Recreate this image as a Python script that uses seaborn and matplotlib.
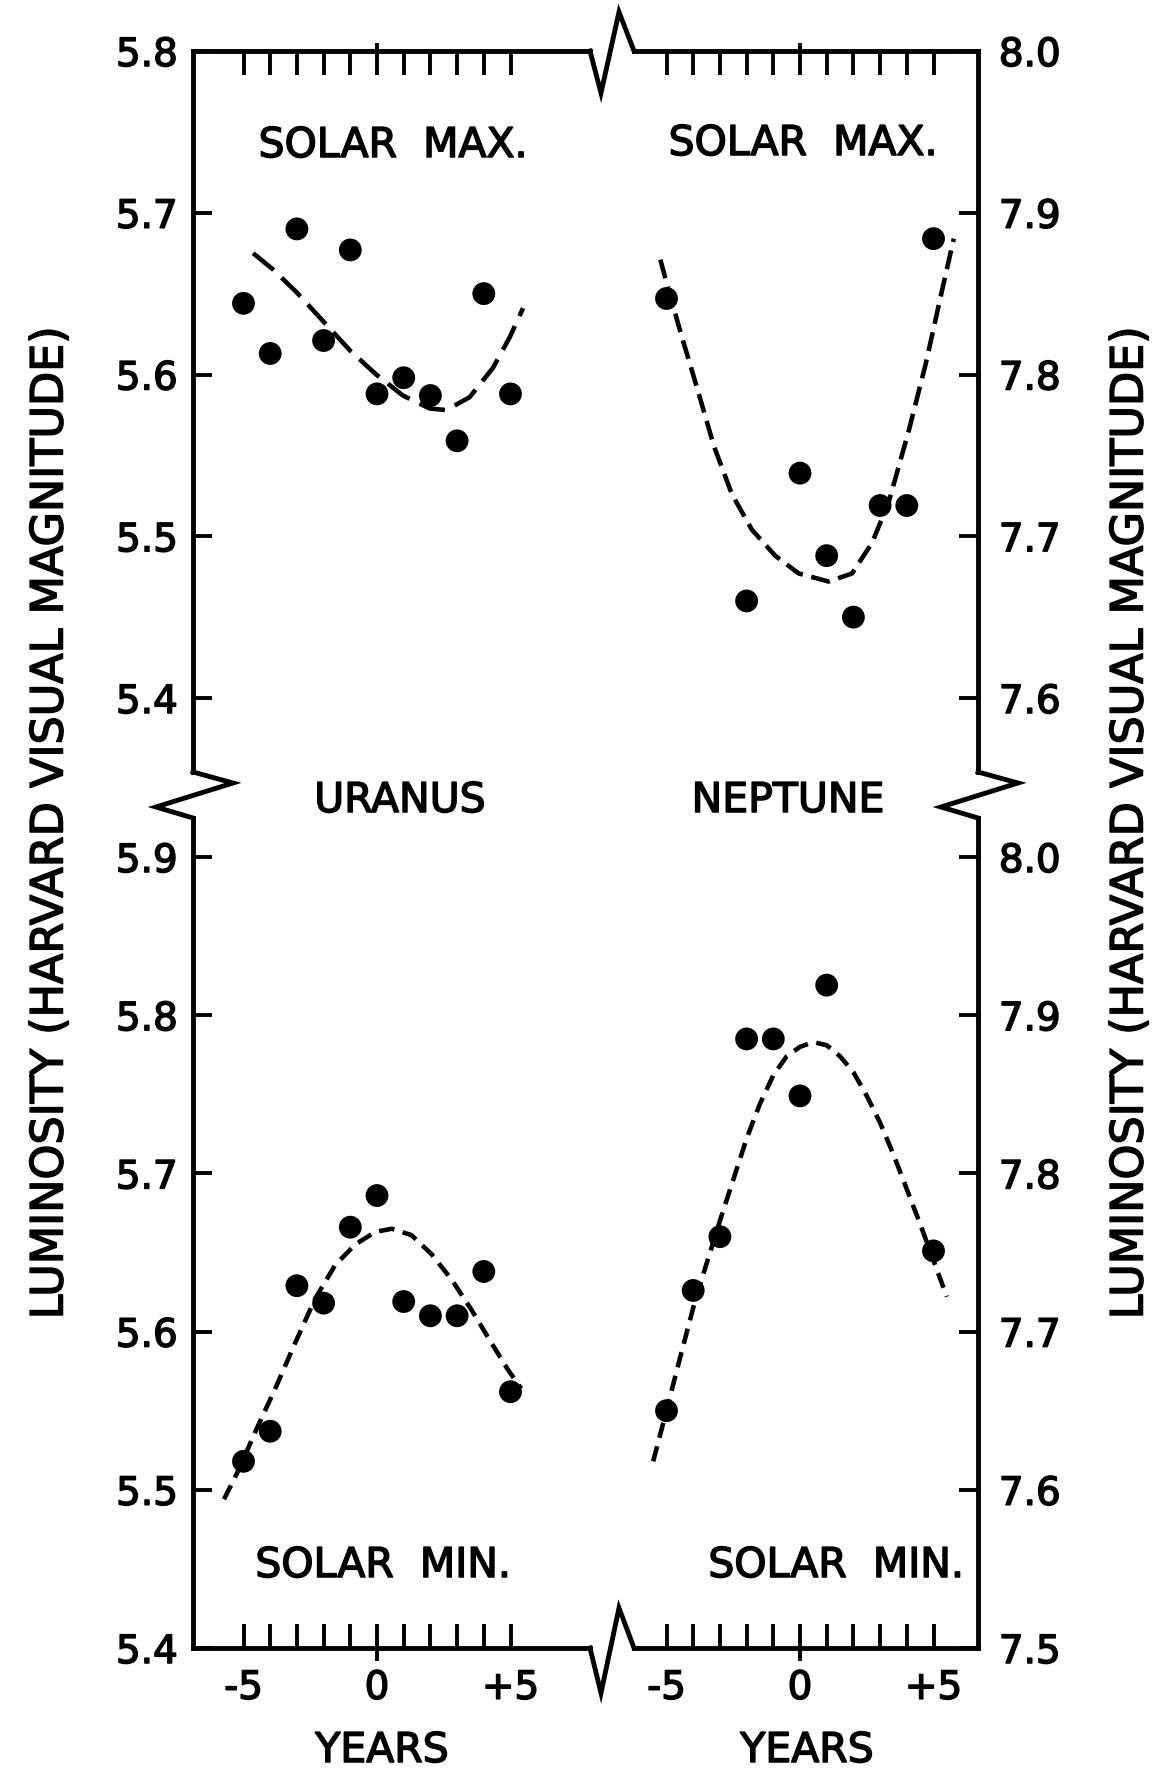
import numpy as np
import pandas as pd
import matplotlib
matplotlib.use("Agg")
import matplotlib.pyplot as plt
import matplotlib.patheffects as pe
from matplotlib.lines import Line2D
from matplotlib.text import Text
from matplotlib.ticker import FixedLocator
import seaborn as sns

# ---------------- data ----------------
years_uranus_max = [-5, -4, -3, -2, -1, 0, 1, 2, 3, 4, 5]
mag_uranus_max = [5.644, 5.613, 5.690, 5.621, 5.677, 5.588, 5.598, 5.587, 5.559, 5.650, 5.588]
curve_uranus_max_x = [-4.64, -3.90, -3.02, -2.02, -1.02, -0.03, 0.97, 1.97, 2.60, 3.47, 4.34, 4.97, 5.47]
curve_uranus_max_y = [5.675, 5.665, 5.651, 5.633, 5.615, 5.600, 5.587, 5.579, 5.578, 5.586, 5.604, 5.623, 5.641]

years_neptune_max = [-5, -2, 0, 1, 2, 3, 4, 5]
mag_neptune_max = [7.847, 7.660, 7.739, 7.688, 7.650, 7.719, 7.719, 7.884]
curve_neptune_max_x = [-5.23, -4.92, -4.42, -3.86, -3.23, -2.55, -1.80, -0.93, -0.05, 1.07, 1.95, 2.70,
                       3.32, 4.07, 4.70, 5.32, 5.76]
curve_neptune_max_y = [7.871, 7.852, 7.823, 7.792, 7.756, 7.726, 7.704, 7.688, 7.677, 7.672, 7.677, 7.696,
                       7.721, 7.765, 7.806, 7.852, 7.884]

years_uranus_min = [-5, -4, -3, -2, -1, 0, 1, 2, 3, 4, 5]
mag_uranus_min = [5.518, 5.537, 5.629, 5.618, 5.666, 5.686, 5.619, 5.610, 5.610, 5.638, 5.562]
curve_uranus_min_x = [-5.73, -5.17, -4.55, -3.81, -3.06, -2.31, -1.57, -0.82, -0.07, 0.55, 1.29, 2.04,
                      2.79, 3.53, 4.28, 4.90, 5.40]
curve_uranus_min_y = [5.494, 5.513, 5.537, 5.564, 5.593, 5.621, 5.642, 5.655, 5.663, 5.665, 5.661, 5.649,
                      5.633, 5.614, 5.593, 5.576, 5.564]

years_neptune_min = [-5, -4, -3, -2, -1, 0, 1, 5]
mag_neptune_min = [7.650, 7.726, 7.760, 7.885, 7.885, 7.849, 7.919, 7.751]
curve_neptune_min_x = [-5.5, -5.0, -4.5, -4.0, -3.5, -3.0, -2.5, -2.0, -1.5, -1.0, -0.5, 0.0, 0.5, 1.0,
                       1.5, 2.0, 2.5, 3.0, 3.5, 4.0, 4.5, 5.0, 5.5]
curve_neptune_min_y = [7.618, 7.650, 7.683, 7.715, 7.743, 7.770, 7.796, 7.822, 7.844, 7.862, 7.874, 7.880,
                       7.883, 7.881, 7.874, 7.864, 7.849, 7.832, 7.812, 7.790, 7.768, 7.745, 7.722]

x_ticks = [-5, -4, -3, -2, -1, 0, 1, 2, 3, 4, 5]
x_tick_labels = ["-5", "", "", "", "", "0", "", "", "", "", "+5"]
y_ticks_uranus_top = [5.4, 5.5, 5.6, 5.7, 5.8]
y_ticks_uranus_bottom = [5.4, 5.5, 5.6, 5.7, 5.8, 5.9]
y_ticks_neptune_top = [7.6, 7.7, 7.8, 7.9, 8.0]
y_ticks_neptune_bottom = [7.5, 7.6, 7.7, 7.8, 7.9, 8.0]

ylabel_text = "LUMINOSITY (HARVARD VISUAL MAGNITUDE)"

# ---------------- style ----------------
sns.set_style("white")
plt.rcParams["font.family"] = ["DejaVu Sans"]
plt.rcParams["axes.linewidth"] = 3.5
for key in ("text.color", "axes.labelcolor", "xtick.color", "ytick.color", "axes.edgecolor"):
    plt.rcParams[key] = "black"

W, H, DPI = 1157, 1771, 100
fig = plt.figure(figsize=(W / DPI, H / DPI), dpi=DPI)
fig.patch.set_facecolor("white")


def fx(px):
    return px / W


def fy(py):
    return 1 - py / H


# layout (pixel frame)
XL0, XL1 = 193, 590
XR0, XR1 = 634, 978
YT0, YT1 = 51, 772
YB0, YB1 = 818, 1648
ZERO_L, ZERO_R, PX_PER_YEAR = 377, 800, 26.7
TOP_PX_PER_TENTH = 161.75
BOT_PX_PER_TENTH = 158.2
TICK_FS = 28
TEXT_FS = 29.5
CURVE_LW = 3.3
DOT_SIZE = 270


def make_ax(x0, x1, y0, y1):
    return fig.add_axes([fx(x0), fy(y1), fx(x1) - fx(x0), fy(y0) - fy(y1)])


ax_tl = make_ax(XL0, XL1, YT0, YT1)
ax_tr = make_ax(XR0, XR1, YT0, YT1)
ax_bl = make_ax(XL0, XL1, YB0, YB1)
ax_br = make_ax(XR0, XR1, YB0, YB1)

xlim_left = ((XL0 - ZERO_L) / PX_PER_YEAR, (XL1 - ZERO_L) / PX_PER_YEAR)
xlim_right = ((XR0 - ZERO_R) / PX_PER_YEAR, (XR1 - ZERO_R) / PX_PER_YEAR)
top_span = (YT1 - YT0) / TOP_PX_PER_TENTH * 0.1
bot_span = (YB1 - YB0) / BOT_PX_PER_TENTH * 0.1

panels = [
    (ax_tl, years_uranus_max, mag_uranus_max, curve_uranus_max_x, curve_uranus_max_y,
     xlim_left, (5.8 - top_span, 5.8), y_ticks_uranus_top, "left", "top", (5.8, 2.4)),
    (ax_tr, years_neptune_max, mag_neptune_max, curve_neptune_max_x, curve_neptune_max_y,
     xlim_right, (8.0 - top_span, 8.0), y_ticks_neptune_top, "right", "top", (4.2, 1.9)),
    (ax_bl, years_uranus_min, mag_uranus_min, curve_uranus_min_x, curve_uranus_min_y,
     xlim_left, (5.4, 5.4 + bot_span), y_ticks_uranus_bottom, "left", "bottom", (3.4, 1.9)),
    (ax_br, years_neptune_min, mag_neptune_min, curve_neptune_min_x, curve_neptune_min_y,
     xlim_right, (7.5, 7.5 + bot_span), y_ticks_neptune_bottom, "right", "bottom", (3.4, 1.9)),
]

for ax, xs, ys, cx, cy, xlim, ylim, yt, yside, xside, dash in panels:
    ax.set_facecolor("none")
    sns.lineplot(x=cx, y=cy, ax=ax, color="black", linewidth=CURVE_LW,
                 linestyle=(0, dash), sort=False, estimator=None)
    sns.scatterplot(x=xs, y=ys, ax=ax, color="black", s=DOT_SIZE, edgecolor="none", linewidth=0, zorder=3)
    ax.set_xlim(*xlim)
    ax.set_ylim(*ylim)
    ax.set_xlabel("")
    ax.set_ylabel("")
    ax.grid(False)
    for sp in ax.spines.values():
        sp.set_visible(False)
        sp.set_linewidth(3.5)
        sp.set_color("black")
    ax.spines[yside].set_visible(True)
    ax.spines[xside].set_visible(True)
    ax.spines[yside].set_capstyle("projecting")
    ax.spines[xside].set_capstyle("projecting")

    # x ticks
    ax.set_xticks(x_ticks)
    ax.xaxis.set_minor_locator(FixedLocator([0]))
    ax.xaxis.remove_overlapping_locs = False
    if xside == "top":
        ax.tick_params(axis="x", which="both", top=True, bottom=False,
                       labeltop=False, labelbottom=False)
        ax.set_xticklabels([""] * len(x_ticks))
        minor_len = 6
    else:
        ax.tick_params(axis="x", which="both", top=False, bottom=True,
                       labeltop=False, labelbottom=True)
        ax.set_xticklabels(x_tick_labels)
        minor_len = 9
    ax.tick_params(axis="x", which="major", direction="in", length=17, width=2.8,
                   pad=15, labelsize=TICK_FS, colors="black")
    ax.tick_params(axis="x", which="minor", direction="out", length=minor_len, width=2.8)

    # y ticks
    ax.set_yticks(yt)
    ax.set_yticklabels([f"{v:.1f}" for v in yt])
    if yside == "left":
        ax.tick_params(axis="y", which="major", left=True, right=False,
                       labelleft=True, labelright=False, pad=11)
    else:
        ax.tick_params(axis="y", which="major", left=False, right=True,
                       labelleft=False, labelright=True, pad=15)
    ax.tick_params(axis="y", which="major", direction="in", length=13.5, width=2.8,
                   labelsize=TICK_FS, colors="black")
    ax.tick_params(axis="y", which="minor", left=False, right=False)

# YEARS labels
for ax, cx in ((ax_bl, 382), (ax_br, 807)):
    x0, x1 = (XL0, XL1) if ax is ax_bl else (XR0, XR1)
    ax.set_xlabel("YEARS", fontsize=TEXT_FS, color="black")
    ax.xaxis.set_label_coords((cx - x0) / (x1 - x0), (YB1 - 1762) / (YB1 - YB0))
    ax.xaxis.label.set_verticalalignment("baseline")

# break marks drawn on the figure
lw_frame = 3.5


def zig(points):
    xs = [fx(p[0]) for p in points]
    ys = [fy(p[1]) for p in points]
    fig.add_artist(Line2D(xs, ys, transform=fig.transFigure, color="black",
                          linewidth=lw_frame, solid_joinstyle="miter", solid_capstyle="projecting"))


zig([(XL1, YT0), (601, 93), (619, 12), (XR0, YT0)])
zig([(XL1, YB1), (601, 1693), (619, 1608), (XR0, YB1)])
zig([(XL0, YT1), (XL0 + 40, 783), (XL0 - 37, 807), (XL0, YB0)])
zig([(XR1, YT1), (XR1 + 40, 783), (XR1 - 37, 807), (XR1, YB0)])

# annotations
txt = dict(ha="center", va="baseline", fontsize=TEXT_FS, color="black")
fig.text(fx(393), fy(157), "SOLAR  MAX.", **txt)
fig.text(fx(803), fy(155), "SOLAR  MAX.", **txt)
fig.text(fx(400), fy(812), "URANUS", **txt)
fig.text(fx(788), fy(812), "NEPTUNE", **txt)
fig.text(fx(383), fy(1577), "SOLAR  MIN.", **txt)
fig.text(fx(836), fy(1577), "SOLAR  MIN.", **txt)

fig.text(fx(50), fy(822), ylabel_text, rotation=90, ha="center", va="center", fontsize=32, color="black")
fig.text(fx(1130), fy(822), ylabel_text, rotation=90, ha="center", va="center", fontsize=32, color="black")

# thicken the lettering slightly (pen-drawn look)
heavy = [pe.withStroke(linewidth=1.1, foreground="black")]
for t in fig.findobj(Text):
    if t.get_text():
        t.set_path_effects(heavy)
        t.set_color("black")

fig.savefig("out.png", dpi=DPI, facecolor="white")
